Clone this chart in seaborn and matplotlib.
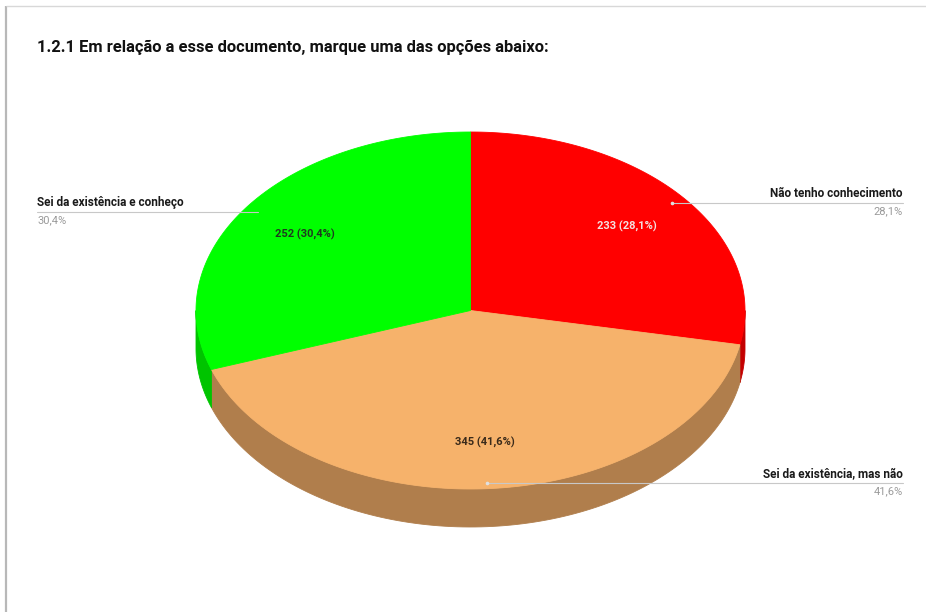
import numpy as np
import matplotlib
matplotlib.use("Agg")
import matplotlib.pyplot as plt
from matplotlib.patches import Polygon
import seaborn as sns

# Survey answers (clockwise from 12 o'clock)
categories = ["Não tenho conhecimento", "Sei da existência, mas não", "Sei da existência e conheço"]
counts = [233, 345, 252]
pct_labels = ["28,1%", "41,6%", "30,4%"]
top_colors = ["#ff0000", "#f6b26b", "#00ff00"]
side_colors = ["#c40000", "#b07e4c", "#00c400"]
inner_text_colors = ["#f4e0e0", "#3a2a1a", "#1f3a1f"]
title = "1.2.1 Em relação a esse documento, marque uma das opções abaixo:"

sns.set_theme(style="white")
plt.rcParams["font.family"] = ["Roboto", "DejaVu Sans"]

W, H = 926, 612
fig = plt.figure(figsize=(W / 100, H / 100), dpi=100)
ax = fig.add_axes([0, 0, 1, 1])
ax.set_xlim(0, W)
ax.set_ylim(H, 0)
ax.axis("off")

# Panel border (left and top)
ax.plot([6, 6], [6, H], color="#b8b8b8", lw=1.6, solid_capstyle="butt")
ax.plot([6, W], [6, 6], color="#d8d8d8", lw=1.0, solid_capstyle="butt")

# Ellipse geometry of the tilted pie
cx, cy, rx, ry, depth = 470.5, 310.5, 274.5, 178.5, 38


def pt(theta_deg, dy=0.0):
    t = np.radians(theta_deg)
    return cx + rx * np.sin(t), cy - ry * np.cos(t) + dy


total = sum(counts)
fracs = [c / total for c in counts]
bounds = np.concatenate([[0], np.cumsum(fracs) * 360])

# Side walls: only the front half (90..270 deg clockwise from top) is visible
for i in range(len(counts)):
    a0, a1 = bounds[i], bounds[i + 1]
    s0, s1 = max(a0, 90), min(a1, 270)
    if s1 <= s0:
        continue
    th = np.linspace(s0, s1, 120)
    top = [pt(t) for t in th]
    bot = [pt(t, depth) for t in th[::-1]]
    ax.add_patch(Polygon(top + bot, closed=True, facecolor=side_colors[i],
                         edgecolor=side_colors[i], lw=0.6, zorder=2))

# Top face wedges
mids = []
for i in range(len(counts)):
    a0, a1 = bounds[i], bounds[i + 1]
    th = np.linspace(a0, a1, 200)
    poly = [(cx, cy)] + [pt(t) for t in th]
    ax.add_patch(Polygon(poly, closed=True, facecolor=top_colors[i],
                         edgecolor=top_colors[i], lw=0.6, zorder=3))
    mids.append((a0 + a1) / 2)

# Value labels inside the slices
for i in range(len(counts)):
    t = np.radians(mids[i])
    x = cx + 0.74 * rx * np.sin(t)
    y = cy - 0.74 * ry * np.cos(t)
    ax.text(x, y, f"{counts[i]} ({pct_labels[i]})", ha="center", va="center",
            fontsize=8, fontweight="bold", color=inner_text_colors[i], zorder=5)

# Leader lines and outside labels
leader = [
    dict(anchor=(672, 203), x_end=903, ha="right", dot=True),
    dict(anchor=(487, 483), x_end=903, ha="right", dot=True),
    dict(anchor=(258, 212), x_end=37, ha="left", dot=False),
]
for i, spec in enumerate(leader):
    ax0, ay0 = spec["anchor"]
    xe = spec["x_end"]
    ax.plot([ax0, xe], [ay0, ay0], color="#c8c8c8", lw=0.8, zorder=6)
    if spec["dot"]:
        ax.plot([ax0], [ay0], marker="o", ms=1.6, color="#e0e0e0", zorder=6)
    ax.text(xe, ay0 - 3, categories[i], ha=spec["ha"], va="bottom",
            fontsize=8.5, fontweight="bold", color="#1a1a1a", zorder=6)
    ax.text(xe, ay0 + 3, pct_labels[i], ha=spec["ha"], va="top",
            fontsize=8, color="#9a9a9a", zorder=6)

ax.text(37, 47, title, ha="left", va="center", fontsize=11.9,
        fontweight="bold", color="#111111")

fig.savefig("out.png", dpi=100)
